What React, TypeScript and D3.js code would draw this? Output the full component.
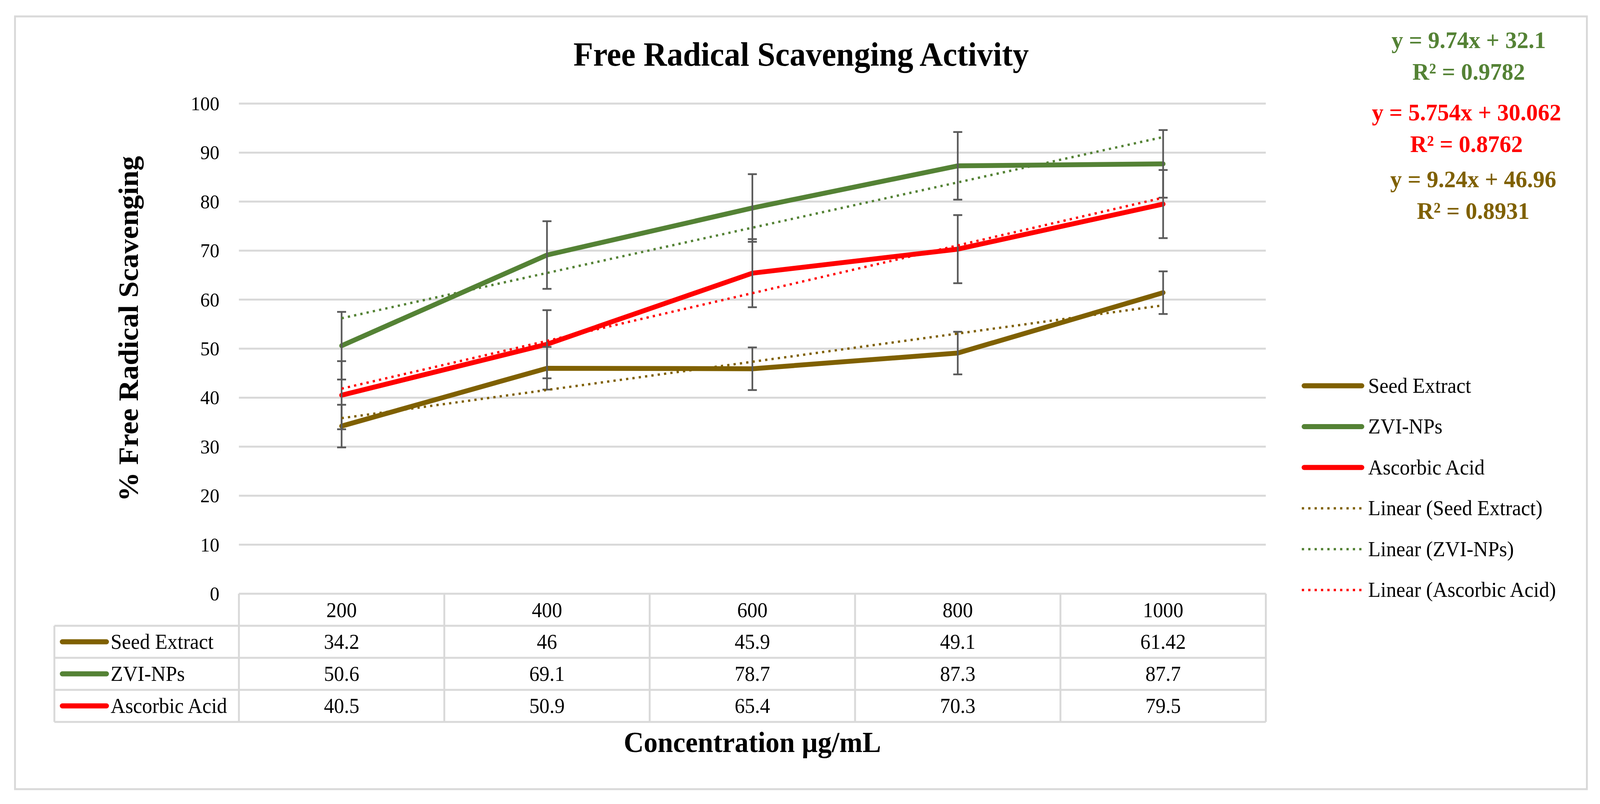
import * as React from 'react';
import * as d3 from 'd3';

const categories = ['200', '400', '600', '800', '1000'];
const seedExtract = [34.2, 46, 45.9, 49.1, 61.42];
const zviNps = [50.6, 69.1, 78.7, 87.3, 87.7];
const ascorbicAcid = [40.5, 50.9, 65.4, 70.3, 79.5];
// error bar half-lengths read from the caps
const seedErr = [4.35, 4.35, 4.35, 4.35, 4.35];
const zviErr = [6.9, 6.9, 6.9, 6.9, 6.9];
const ascorbicErr = [6.95, 6.95, 6.95, 6.95, 6.95];
// linear trendlines (slope, intercept) on category index 1..5
const trendSlopes = [5.754, 9.24, 9.74];
const trendIntercepts = [30.062, 46.96, 32.1];
const seriesNames = ['Seed Extract', 'ZVI-NPs', 'Ascorbic Acid'];
const seriesColors = ['#7F6000', '#548235', '#FF0000'];
const equationLines = [
  ['y = 9.74x + 32.1', 'R² = 0.9782'],
  ['y = 5.754x + 30.062', 'R² = 0.8762'],
  ['y = 9.24x + 46.96', 'R² = 0.8931'],
];
const equationColors = ['#548235', '#FF0000', '#7F6000'];

const W = 4266;
const H = 2057;
const FONT = '"Liberation Serif", "Times New Roman", serif';
const GRID = '#D9D9D9';
const DOTS = '6 11';

export default function App() {
  const series = [seedExtract, zviNps, ascorbicAcid];
  const errs = [seedErr, zviErr, ascorbicErr];

  const x = d3.scaleBand<string>().domain(categories).range([637, 3375]).padding(0);
  const y = d3.scaleLinear().domain([0, 100]).range([1519, 265]);
  const cx = (c: string) => (x(c) as number) + x.bandwidth() / 2;

  const line = d3
    .line<number>()
    .x((_, i) => cx(categories[i]))
    .y((d) => y(d));

  const rowTops = [1601, 1683, 1765];
  const rowH = 82;
  const tableBottom = 1847;

  return (
    <div
      style={{
        position: 'fixed',
        left: 0,
        top: 0,
        width: '100vw',
        height: '100vh',
        overflow: 'hidden',
        background: '#fff',
      }}
    >
      <svg
        width="100%"
        height="100%"
        viewBox={`0 0 ${W} ${H}`}
        preserveAspectRatio="none"
        style={{ display: 'block', fontFamily: FONT }}
      >
        <rect x={0} y={0} width={W} height={H} fill="#fff" />
        <rect x={40} y={42} width={4191} height={1977} fill="none" stroke={GRID} strokeWidth={5} />

        {/* gridlines + y ticks */}
        {y.ticks(10).map((t) => (
          <g key={t}>
            {t > 0 && (
              <line x1={637} x2={3375} y1={y(t)} y2={y(t)} stroke={GRID} strokeWidth={5} />
            )}
            <text x={585} y={y(t) + 17} fontSize={51} textAnchor="end" fill="#000">
              {t}
            </text>
          </g>
        ))}

        {/* data table */}
        <g stroke={GRID} strokeWidth={5} fill="none">
          <line x1={637} x2={3375} y1={1519} y2={1519} />
          {[...rowTops, tableBottom].map((ry) => (
            <line key={ry} x1={145} x2={3375} y1={ry} y2={ry} />
          ))}
          <line x1={145} x2={145} y1={1601} y2={tableBottom} />
          {categories.map((c) => (
            <line key={c} x1={x(c)} x2={x(c)} y1={1519} y2={tableBottom} />
          ))}
          <line x1={3375} x2={3375} y1={1519} y2={tableBottom} />
        </g>
        {categories.map((c) => (
          <text key={c} x={cx(c)} y={1579} fontSize={54} textAnchor="middle">
            {c}
          </text>
        ))}
        {series.map((s, si) => (
          <g key={si}>
            <line
              x1={166}
              x2={284}
              y1={rowTops[si] + rowH / 2}
              y2={rowTops[si] + rowH / 2}
              stroke={seriesColors[si]}
              strokeWidth={13}
              strokeLinecap="round"
            />
            <text x={295} y={rowTops[si] + rowH / 2 + 18} fontSize={54}>
              {seriesNames[si]}
            </text>
            {s.map((v, i) => (
              <text
                key={i}
                x={cx(categories[i])}
                y={rowTops[si] + rowH / 2 + 18}
                fontSize={54}
                textAnchor="middle"
              >
                {String(v)}
              </text>
            ))}
          </g>
        ))}

        {/* series lines */}
        {series.map((s, si) => (
          <path
            key={si}
            d={line(s) || ''}
            fill="none"
            stroke={seriesColors[si]}
            strokeWidth={12.5}
            strokeLinejoin="round"
            strokeLinecap="round"
          />
        ))}

        {/* error bars */}
        <g stroke="#595959" strokeWidth={4.5}>
          {series.map((s, si) =>
            s.map((v, i) => {
              const px = cx(categories[i]);
              const top = y(v + errs[si][i]);
              const bot = y(v - errs[si][i]);
              return (
                <g key={si + '-' + i}>
                  <line x1={px} x2={px} y1={top} y2={bot} />
                  <line x1={px - 12} x2={px + 12} y1={top} y2={top} />
                  <line x1={px - 12} x2={px + 12} y1={bot} y2={bot} />
                </g>
              );
            })
          )}
        </g>

        {/* trendlines */}
        {trendSlopes.map((m, si) => (
          <line
            key={si}
            x1={cx(categories[0])}
            x2={cx(categories[4])}
            y1={y(m * 1 + trendIntercepts[si])}
            y2={y(m * 5 + trendIntercepts[si])}
            stroke={seriesColors[si]}
            strokeWidth={6}
            strokeDasharray={DOTS}
          />
        ))}

        {/* titles */}
        <text x={2136} y={168} fontSize={86} fontWeight="bold" textAnchor="middle">
          Free Radical Scavenging Activity
        </text>
        <text
          transform="translate(368,841) rotate(-90)"
          fontSize={75}
          fontWeight="bold"
          textAnchor="middle"
        >
          % Free Radical Scavenging
        </text>
        <text x={2006} y={1924} fontSize={74} fontWeight="bold" textAnchor="middle">
          Concentration µg/mL
        </text>

        {/* legend */}
        {[0, 1, 2, 3, 4, 5].map((k) => {
          const ly = 987 + k * 104.5;
          const si = k % 3;
          const solid = k < 3;
          return (
            <g key={k}>
              {solid ? (
                <line
                  x1={3477}
                  x2={3631}
                  y1={ly}
                  y2={ly}
                  stroke={seriesColors[si]}
                  strokeWidth={13}
                  strokeLinecap="round"
                />
              ) : (
                <line
                  x1={3471}
                  x2={3637}
                  y1={ly}
                  y2={ly}
                  stroke={seriesColors[si]}
                  strokeWidth={6}
                  strokeDasharray={DOTS}
                />
              )}
              <text x={3648} y={ly + 18} fontSize={54}>
                {solid ? seriesNames[si] : `Linear (${seriesNames[si]})`}
              </text>
            </g>
          );
        })}

        {/* trendline equations */}
        {equationLines.map((lines, gi) => {
          const base = [123, 308, 479][gi];
          const cxs = [3916, 3910, 3928][gi];
          return (
            <g key={gi} fill={equationColors[gi]} fontWeight="bold" fontSize={62} textAnchor="middle">
              <text x={cxs} y={base}>{lines[0]}</text>
              <text x={cxs} y={base + 81}>{lines[1]}</text>
            </g>
          );
        })}
      </svg>
    </div>
  );
}
